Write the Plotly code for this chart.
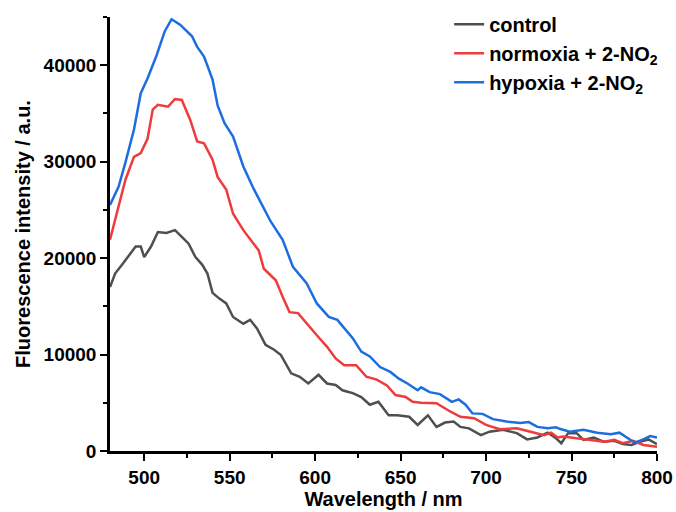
import plotly.graph_objects as go

# Wavelength (nm) and intensity (a.u.)
wl_control = [480, 483, 487, 491, 495, 498, 500, 504, 508, 513, 518, 522, 526, 530, 534, 537, 540, 544, 548, 552,
              558, 562, 566, 571, 576, 580, 586, 591, 596, 602, 607, 612, 616, 619, 622, 627, 632, 637, 643, 648,
              655, 660, 666, 671, 676, 681, 685, 690, 697, 702, 710, 718, 724, 730, 736, 739, 741, 744, 748, 753,
              757, 763, 769, 775, 780, 785, 790, 795, 800]
control = [17000, 18400, 19300, 20300, 21200, 21200, 20100, 21200, 22700, 22600, 22900, 22200, 21500, 20100, 19300,
           18400, 16400, 15800, 15300, 13900, 13200, 13600, 12700, 11000, 10500, 9950, 8050, 7700, 7000, 7900, 7000,
           6850, 6300, 6150, 6000, 5600, 4800, 5100, 3700, 3700, 3550, 2700, 3700, 2500, 2950, 3050, 2500, 2350,
           1650, 2000, 2200, 1850, 1200, 1400, 1900, 1550, 1300, 800, 1850, 1850, 1150, 1400, 950, 1050, 720, 620,
           960, 1200, 720]

wl_normoxia = [480, 485, 489, 494, 498, 502, 505, 508, 514, 518, 522, 527, 531, 535, 540, 543, 548, 552, 558, 564,
               567, 570, 577, 581, 585, 590, 595, 601, 607, 612, 617, 624, 630, 636, 642, 647, 653, 657, 662, 671,
               679, 685, 693, 700, 708, 718, 726, 734, 738, 742, 745, 753, 761, 769, 775, 780, 786, 792, 800]
normoxia = [21900, 25300, 28100, 30500, 30900, 32400, 35400, 35900, 35700, 36500, 36400, 34300, 32100, 31900, 30200,
            28400, 27100, 24600, 22900, 21500, 20800, 18900, 17700, 16000, 14400, 14300, 13200, 12000, 10800, 9600,
            8900, 8900, 7700, 7400, 6800, 5800, 5600, 5100, 5000, 4950, 4100, 3550, 3400, 2700, 2250, 2350, 2000,
            1650, 1900, 1400, 1500, 1300, 1150, 950, 1150, 800, 1050, 620, 450]

wl_hypoxia = [480, 485, 489, 494, 498, 502, 507, 512, 516, 521, 528, 531, 535, 540, 543, 547, 552, 558, 564, 569,
              574, 581, 587, 595, 601, 608, 613, 622, 627, 632, 638, 644, 649, 654, 660, 662, 667, 673, 680, 684,
              688, 692, 698, 704, 712, 720, 725, 730, 736, 741, 743, 749, 757, 765, 773, 778, 783, 787, 792, 796, 800]
hypoxia = [25500, 27400, 29900, 33300, 37100, 38650, 40900, 43500, 44770, 44200, 43000, 41900, 40900, 38500, 35800,
           34000, 32600, 29500, 27200, 25500, 23800, 21900, 19100, 17400, 15300, 13900, 13600, 11700, 10300, 9800,
           8700, 8200, 7500, 7000, 6300, 6600, 6100, 5900, 5100, 5350, 4800, 3900, 3850, 3300, 3050, 2900, 3000,
           2500, 2350, 2450, 2300, 2000, 2200, 1900, 1750, 1900, 1300, 860, 1200, 1550, 1400]

series_names = ["control", "normoxia + 2-NO<sub>2</sub>", "hypoxia + 2-NO<sub>2</sub>"]
colors = ["#4f4f4f", "#ef3b3b", "#1c6ee0"]

x_ticks = [500, 550, 600, 650, 700, 750, 800]
x_tick_labels = ["500", "550", "600", "650", "700", "750", "800"]
y_ticks = [0, 10000, 20000, 30000, 40000]
y_tick_labels = ["0", "10000", "20000", "30000", "40000"]

FONT = "Liberation Sans, Arial, sans-serif"

fig = go.Figure()
for wl, vals, name, col in zip([wl_control, wl_normoxia, wl_hypoxia],
                               [control, normoxia, hypoxia], series_names, colors):
    fig.add_trace(go.Scatter(x=wl, y=vals, mode="lines", name=name,
                             line=dict(color=col, width=2.5)))

axis_common = dict(showline=True, linecolor="black", linewidth=2.5, ticks="outside",
                   tickcolor="black", tickwidth=2, ticklen=7, showgrid=False, zeroline=False,
                   mirror=False, automargin=False,
                   tickfont=dict(family=FONT, size=19, color="black", weight="bold"))

fig.update_layout(
    width=676, height=512,
    margin=dict(l=110, r=19, t=17, b=61, autoexpand=False),
    paper_bgcolor="white", plot_bgcolor="white",
    font=dict(family=FONT, color="black", weight="bold"),
    xaxis=dict(range=[480, 800], tickvals=x_ticks, ticktext=x_tick_labels,
               minor=dict(dtick=25, tick0=475, ticks="outside", ticklen=4, tickwidth=2, tickcolor="black"),
               title=dict(text="Wavelength / nm", font=dict(family=FONT, size=20, color="black", weight="bold"),
                          standoff=6),
               **axis_common),
    yaxis=dict(range=[0, 45000], tickvals=y_ticks, ticktext=y_tick_labels,
               minor=dict(dtick=5000, tick0=0, ticks="outside", ticklen=4, tickwidth=2, tickcolor="black"),
               title=dict(text="Fluorescence intensity / a.u.",
                          font=dict(family=FONT, size=20, color="black", weight="bold"), standoff=8),
               **axis_common),
    legend=dict(x=0.62, y=1.028, xanchor="left", yanchor="top", bgcolor="rgba(0,0,0,0)",
                font=dict(family=FONT, size=20, color="black", weight="bold"),
                tracegroupgap=0, itemwidth=30),
    showlegend=True,
)

fig.write_html("out.html", config={"displayModeBar": False},
               post_script="document.body.style.margin='0';")
